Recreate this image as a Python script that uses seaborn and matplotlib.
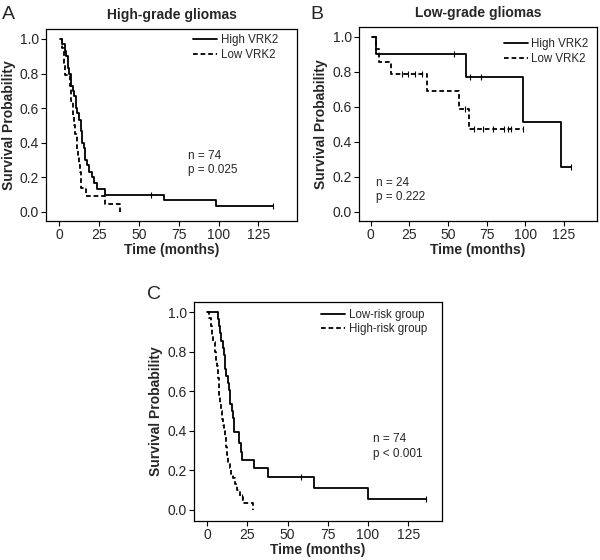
import matplotlib
matplotlib.use("Agg")
import matplotlib.pyplot as plt
import seaborn as sns

sns.set_style("ticks")
plt.rcParams["font.family"] = ["Liberation Sans", "DejaVu Sans"]

# ---------------------------------------------------------
# Kaplan-Meier step points (time in months, survival probability)
# ---------------------------------------------------------
# A: high-grade gliomas
a_high_t = [0.5, 2, 3.5, 4.5, 5.5, 6.5, 7.5, 8.5, 9.5, 10.5, 11.5, 12.5, 13.5, 14.5,
            15.5, 16.5, 17.5, 19, 20.5, 22, 23.5, 28.5, 66, 98.5, 134]
a_high_s = [1.0, 0.97, 0.93, 0.90, 0.83, 0.80, 0.73, 0.70, 0.67, 0.60, 0.57, 0.53, 0.47, 0.40,
            0.37, 0.30, 0.27, 0.23, 0.20, 0.17, 0.13, 0.10, 0.067, 0.033, 0.033]
a_high_cens_t = [57.5, 134]
a_high_cens_s = [0.10, 0.033]

a_low_t = [1, 2, 3, 3.7, 6.8, 7.5, 8.5, 9, 9.5, 10, 11, 11.5, 12, 12.5, 13, 13.5, 14,
           16.7, 28.5, 38.5]
a_low_s = [1.0, 0.95, 0.86, 0.79, 0.73, 0.64, 0.59, 0.55, 0.50, 0.45, 0.41, 0.36, 0.32,
           0.27, 0.23, 0.18, 0.14, 0.09, 0.045, 0.0]

# B: low-grade gliomas
b_high_t = [0.5, 3.3, 61.5, 98.8, 123, 130]
b_high_s = [1.0, 0.90, 0.771, 0.514, 0.257, 0.257]
b_high_cens_t = [54, 64.3, 71.2, 130]
b_high_cens_s = [0.90, 0.771, 0.771, 0.257]

b_low_t = [0.5, 3.6, 5.2, 13.1, 36.5, 57.2, 63.9, 98.4]
b_low_s = [1.0, 0.929, 0.857, 0.786, 0.687, 0.589, 0.471, 0.471]
b_low_cens_t = [20, 24.4, 28.7, 33, 61, 67, 73, 79, 86, 89, 91, 98.4]
b_low_cens_s = [0.786, 0.786, 0.786, 0.786, 0.589, 0.471, 0.471, 0.471, 0.471, 0.471, 0.471, 0.471]

# C: risk groups
c_low_t = [0, 6.4, 7.0, 7.9, 8.5, 9.5, 10.3, 11, 11.6, 13.1, 13.6, 14.1, 15.3, 16, 16.6,
           19.9, 21, 21.8, 29, 37.9, 66.3, 99.7, 136]
c_low_s = [1.0, 0.964, 0.929, 0.893, 0.857, 0.821, 0.786, 0.714, 0.679, 0.643, 0.607, 0.536,
           0.50, 0.464, 0.393, 0.34, 0.295, 0.253, 0.211, 0.169, 0.113, 0.056, 0.056]
c_low_cens_t = [58, 136]
c_low_cens_s = [0.169, 0.056]

c_high_t = [0, 1, 2, 3, 3.7, 4.5, 5.3, 5.8, 6.5, 7, 7.5, 8, 8.5, 9, 9.5, 10.3, 11, 11.7,
            12.4, 13, 14, 15, 16, 17.2, 18.5, 20.3, 22.5, 28.5]
c_high_s = [1.0, 0.97, 0.93, 0.88, 0.85, 0.80, 0.76, 0.73, 0.67, 0.62, 0.58, 0.54, 0.50, 0.46,
            0.43, 0.40, 0.37, 0.32, 0.28, 0.24, 0.21, 0.18, 0.16, 0.13, 0.10, 0.067, 0.034, 0.0]
c_high_cens_t = [21.5]
c_high_cens_s = [0.067]

x_ticks = [0, 25, 50, 75, 100, 125]
y_ticks = [0.0, 0.2, 0.4, 0.6, 0.8, 1.0]

LW = 1.3
DASH = (2.6, 1.6)


def km_panel(ax, solid, dashed, labels, title, stats, stats_xy, xlim, ylim, leg_anchor):
    st, ss, sct, scs = solid
    dt, ds, dct, dcs = dashed
    sns.lineplot(x=st, y=ss, ax=ax, drawstyle="steps-post", color="black", lw=LW,
                 estimator=None, sort=False, label=labels[0])
    sns.lineplot(x=dt, y=ds, ax=ax, drawstyle="steps-post", color="black", lw=LW,
                 estimator=None, sort=False, label=labels[1]).lines[-1].set_dashes(DASH)
    ax.plot(sct, scs, ls="none", marker="|", ms=4, mew=0.8, color="black")
    if dct:
        ax.plot(dct, dcs, ls="none", marker="|", ms=4, mew=0.8, color="black")
    ax.set_xlim(*xlim)
    ax.set_ylim(*ylim)
    ax.set_xticks(x_ticks)
    ax.set_yticks(y_ticks)
    ax.set_yticklabels([f"{v:.1f}" for v in y_ticks])
    ax.tick_params(labelsize=10, length=3.5, width=0.8, pad=1.5, color="black")
    for sp in ax.spines.values():
        sp.set_linewidth(0.9)
        sp.set_color("black")
    ax.set_xlabel("Time (months)", fontsize=10, fontweight="bold", labelpad=1)
    ax.set_ylabel("Survival Probability", fontsize=10, fontweight="bold", labelpad=3)
    if title:
        ax.set_title(title, fontsize=10, fontweight="bold", pad=7)
    ax.text(stats_xy[0], stats_xy[1], stats, fontsize=8.5, va="top", ha="left", linespacing=1.3)
    ax.legend(loc="upper right", bbox_to_anchor=leg_anchor, frameon=False, fontsize=8.3,
              handlelength=2.1, handletextpad=0.3, labelspacing=0.25,
              borderaxespad=0, borderpad=0)


fig = plt.figure(figsize=(6, 5.6), dpi=100)
axA = fig.add_axes([0.0767, 0.6054, 0.4183, 0.3429])
axB = fig.add_axes([0.598, 0.6054, 0.397, 0.3464])
axC = fig.add_axes([0.3233, 0.0696, 0.4133, 0.3911])

km_panel(axA, (a_high_t, a_high_s, a_high_cens_t, a_high_cens_s),
         (a_low_t, a_low_s, [], []), ["High VRK2", "Low VRK2"],
         "High-grade gliomas", "n = 74\np = 0.025", (81, 0.36), (-8.2, 149.2), (-0.052, 1.058),
         (0.925, 0.975))
km_panel(axB, (b_high_t, b_high_s, b_high_cens_t, b_high_cens_s),
         (b_low_t, b_low_s, b_low_cens_t, b_low_cens_s), ["High VRK2", "Low VRK2"],
         "Low-grade gliomas", "n = 24\np = 0.222", (3.4, 0.20), (-7.8, 146.6), (-0.053, 1.055),
         (0.965, 0.945))
km_panel(axC, (c_low_t, c_low_s, c_low_cens_t, c_low_cens_s),
         (c_high_t, c_high_s, c_high_cens_t, c_high_cens_s), ["Low-risk group", "High-risk group"],
         None, "n = 74\np < 0.001", (103.3, 0.39), (-8.3, 146), (-0.056, 1.052),
         (0.94, 0.97))

fig.text(0.003, 0.99, "A", fontsize=14, va="top", ha="left")
fig.text(0.518, 0.99, "B", fontsize=14, va="top", ha="left")
fig.text(0.245, 0.49, "C", fontsize=14, va="top", ha="left")

fig.savefig("out.png", dpi=100)
